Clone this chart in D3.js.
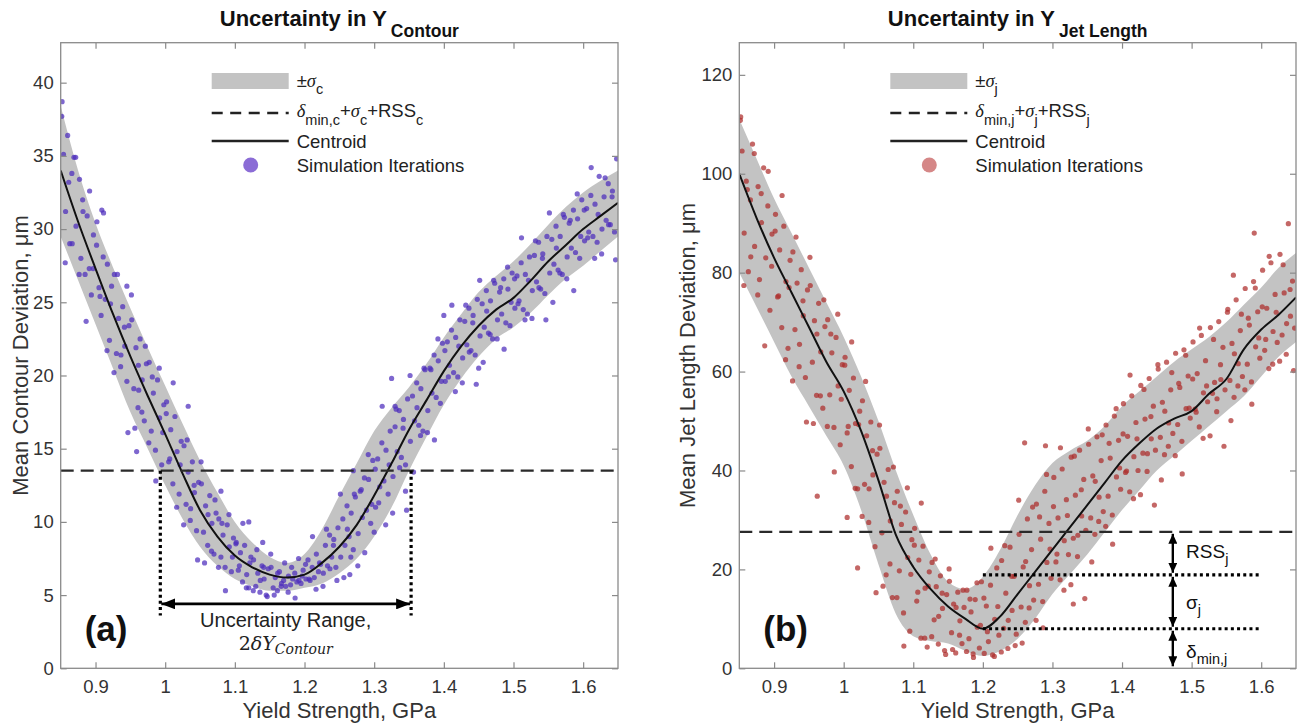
<!DOCTYPE html>
<html>
<head>
<meta charset="utf-8">
<script src="https://cdn.jsdelivr.net/npm/d3@7"></script>
<style>
  body { margin: 0; background: #fff; }
  svg { display: block; font-family: "Liberation Sans", Arial, Helvetica, sans-serif; }
</style>
</head>
<body>
<svg id="viewport" width="1304" height="728"></svg>
<script>
// shared x grid (yield strength, GPa) for the centroid and the +/- sigma band
const gridX = [0.85, 0.875, 0.9, 0.925, 0.95, 0.975, 1.0, 1.025, 1.05, 1.075, 1.1, 1.125, 1.15, 1.175, 1.2, 1.225, 1.25,
  1.275, 1.3, 1.325, 1.35, 1.375, 1.4, 1.425, 1.45, 1.475, 1.5, 1.525, 1.55, 1.575, 1.6, 1.625, 1.65];
const xTicks = [0.9, 1.0, 1.1, 1.2, 1.3, 1.4, 1.5, 1.6];
const xTickLabels = ['0.9', '1', '1.1', '1.2', '1.3', '1.4', '1.5', '1.6'];

// (a) contour deviation
const contourYTicks = [0, 5, 10, 15, 20, 25, 30, 35, 40];
const contourCentroid = [34, 30.5, 27.3, 24.2, 21.3, 18.6, 16.0, 13.3, 10.8, 9.0, 7.7, 6.9, 6.4, 6.2, 6.4, 7.2, 8.3,
  9.8, 11.8, 14.0, 16.3, 18.3, 20.3, 22.0, 23.4, 24.5, 25.3, 26.5, 27.8, 28.9, 30.0, 30.9, 31.8];
const contourUpper = [38.4, 34.0, 30.4, 27.4, 24.6, 21.9, 19.3, 16.7, 14.2, 12.0, 10.0, 8.6, 7.6, 7.2, 7.8, 9.5, 11.8,
  14.0, 16.2, 17.8, 19.2, 20.8, 22.6, 24.2, 25.7, 26.8, 27.8, 29.0, 30.3, 31.5, 32.5, 33.3, 34.0];
const contourLower = [29.5, 26.5, 23.5, 20.5, 17.5, 15.0, 12.5, 10.2, 8.3, 7.0, 6.1, 5.6, 5.3, 5.3, 5.5, 5.8, 6.5,
  7.5, 9.0, 11.0, 13.5, 15.8, 18.0, 19.8, 21.3, 22.5, 23.3, 24.3, 25.5, 26.6, 27.5, 28.5, 29.5];
const contourThreshold = 13.5;
const contourRange = [0.993, 1.353];
const contourIterations = [
  [0.852, 38.7], [0.854, 35.1], [0.857, 31.2], [0.860, 36.4], [0.863, 29.0], [0.866, 33.8], [0.869, 34.9], [0.872, 30.2],
  [0.877, 33.4], [0.879, 28.0], [0.882, 31.2], [0.885, 26.9], [0.888, 30.9], [0.891, 27.3], [0.894, 25.5], [0.897, 29.6],
  [0.902, 30.5], [0.905, 26.0], [0.908, 24.1], [0.911, 28.1], [0.914, 25.2], [0.917, 27.6], [0.920, 22.4], [0.923, 26.1],
  [0.927, 26.9], [0.930, 21.5], [0.933, 23.9], [0.936, 20.6], [0.939, 24.7], [0.942, 22.0], [0.945, 19.6], [0.948, 23.4],
  [0.952, 23.8], [0.955, 19.1], [0.958, 21.9], [0.961, 17.8], [0.964, 22.5], [0.967, 19.7], [0.970, 16.9], [0.973, 20.8],
  [0.977, 20.9], [0.980, 16.2], [0.983, 18.8], [0.986, 14.9], [0.989, 19.7], [0.992, 17.1], [0.995, 13.9], [0.998, 18.0],
  [1.002, 18.2], [1.005, 14.1], [1.008, 16.3], [1.011, 12.6], [1.014, 17.2], [1.017, 14.8], [1.020, 11.9], [1.023, 15.5],
  [1.027, 15.2], [1.030, 11.2], [1.033, 13.4], [1.036, 10.1], [1.039, 14.1], [1.042, 12.0], [1.045, 9.4], [1.048, 12.7],
  [1.052, 12.6], [1.055, 9.3], [1.058, 11.1], [1.061, 8.4], [1.064, 11.8], [1.067, 9.9], [1.070, 7.8], [1.073, 10.6],
  [1.077, 10.2], [1.080, 7.6], [1.083, 9.1], [1.086, 6.9], [1.089, 9.8], [1.092, 8.3], [1.095, 6.6], [1.098, 8.9],
  [1.102, 8.6], [1.105, 6.7], [1.108, 7.9], [1.111, 5.9], [1.114, 8.4], [1.117, 6.4], [1.120, 5.5], [1.123, 7.6],
  [1.127, 7.4], [1.130, 5.6], [1.133, 6.5], [1.136, 5.2], [1.139, 7.0], [1.142, 6.1], [1.145, 5.0], [1.148, 6.8],
  [1.152, 6.9], [1.155, 5.5], [1.158, 6.2], [1.161, 5.3], [1.164, 6.6], [1.167, 5.8], [1.170, 6.0], [1.173, 5.6],
  [1.177, 6.3], [1.180, 5.7], [1.183, 6.1], [1.186, 6.5], [1.189, 5.9], [1.192, 6.0], [1.195, 5.8], [1.198, 6.7],
  [1.202, 6.1], [1.205, 7.4], [1.208, 6.0], [1.211, 6.9], [1.214, 6.2], [1.217, 7.8], [1.220, 6.6], [1.223, 7.1],
  [1.227, 6.5], [1.230, 8.4], [1.233, 7.0], [1.236, 9.1], [1.239, 7.6], [1.242, 8.8], [1.245, 6.9], [1.248, 9.6],
  [1.252, 7.6], [1.255, 10.2], [1.258, 8.4], [1.261, 11.1], [1.264, 9.0], [1.267, 10.6], [1.270, 8.1], [1.273, 11.7],
  [1.277, 9.2], [1.280, 12.1], [1.283, 10.3], [1.286, 13.0], [1.289, 10.8], [1.292, 12.9], [1.295, 9.9], [1.298, 14.2],
  [1.302, 11.0], [1.305, 14.3], [1.308, 12.4], [1.311, 15.4], [1.314, 12.8], [1.317, 14.9], [1.320, 11.9], [1.323, 16.2],
  [1.327, 13.1], [1.330, 16.5], [1.333, 14.8], [1.336, 17.6], [1.339, 14.4], [1.342, 17.0], [1.345, 13.9], [1.348, 18.4],
  [1.352, 15.5], [1.355, 18.6], [1.358, 16.9], [1.361, 19.5], [1.364, 16.6], [1.367, 19.1], [1.370, 16.2], [1.373, 20.4],
  [1.377, 17.6], [1.380, 20.5], [1.383, 18.8], [1.386, 21.4], [1.389, 18.5], [1.392, 21.0], [1.395, 18.1], [1.398, 22.2],
  [1.402, 19.6], [1.405, 22.3], [1.408, 20.7], [1.411, 23.1], [1.414, 20.2], [1.417, 22.6], [1.420, 19.9], [1.423, 23.8],
  [1.427, 21.2], [1.430, 23.7], [1.433, 22.1], [1.436, 24.6], [1.439, 21.7], [1.442, 24.1], [1.445, 21.4], [1.448, 25.2],
  [1.452, 22.7], [1.455, 24.9], [1.458, 23.3], [1.461, 25.8], [1.464, 22.9], [1.467, 25.1], [1.470, 22.5], [1.473, 26.3],
  [1.477, 23.8], [1.480, 25.7], [1.483, 24.2], [1.486, 26.6], [1.489, 23.6], [1.492, 25.9], [1.495, 23.4], [1.498, 27.0],
  [1.502, 24.6], [1.505, 26.8], [1.508, 25.1], [1.511, 27.7], [1.514, 24.5], [1.517, 26.9], [1.520, 24.2], [1.523, 28.1],
  [1.527, 25.8], [1.530, 28.2], [1.533, 26.4], [1.536, 29.1], [1.539, 25.9], [1.542, 28.3], [1.545, 25.6], [1.548, 29.5],
  [1.552, 27.0], [1.555, 29.3], [1.558, 27.6], [1.561, 30.2], [1.564, 27.2], [1.567, 29.5], [1.570, 26.9], [1.573, 30.8],
  [1.577, 28.1], [1.580, 30.4], [1.583, 28.7], [1.586, 31.3], [1.589, 28.4], [1.592, 30.7], [1.595, 28.0], [1.598, 32.0],
  [1.602, 29.2], [1.605, 31.4], [1.608, 29.8], [1.611, 32.3], [1.614, 29.5], [1.617, 31.7], [1.620, 29.1], [1.623, 33.6],
  [1.627, 30.0], [1.630, 32.2], [1.633, 30.6], [1.636, 33.1], [1.639, 30.3], [1.642, 32.6], [1.645, 29.8], [1.648, 34.8],
  [0.909, 31.3], [0.945, 26.1], [0.959, 14.8], [0.962, 19.0], [1.033, 17.9], [1.080, 12.1], [1.120, 10.0], [1.140, 8.6],
  [1.270, 13.5], [1.300, 9.3], [1.325, 19.8], [1.345, 12.1], [1.265, 6.4], [1.330, 17.9], [1.400, 24.1], [1.450, 20.5],
  [0.8515, 37.7], [0.8565, 27.7], [0.8615, 33.2], [0.8665, 29.0], [0.8715, 34.9],
  [0.8765, 26.9], [0.8815, 32.0], [0.8865, 23.7], [0.8915, 32.6], [0.8965, 27.3],
  [0.9015, 28.9], [0.9065, 25.4], [0.9115, 31.1], [0.9165, 21.7], [0.9215, 24.9],
  [0.9265, 20.2], [0.9315, 26.9], [0.9365, 21.4], [0.9415, 23.3], [0.9465, 16.1],
  [0.9515, 25.5], [0.9565, 16.4], [0.9615, 20.7], [0.9665, 17.5], [0.9715, 22.0],
  [0.9765, 15.4], [0.9815, 19.9], [0.9865, 12.8], [0.9915, 20.5], [0.9965, 16.1],
  [1.0015, 17.4], [1.0065, 14.3], [1.0115, 19.5], [1.0165, 11.0], [1.0215, 13.9],
  [1.0265, 9.8], [1.0315, 15.6], [1.0365, 10.9], [1.0415, 12.5], [1.0465, 7.4],
  [1.0515, 14.1], [1.0565, 7.2], [1.0615, 10.5], [1.0665, 8.0], [1.0715, 11.5],
  [1.0765, 6.9], [1.0815, 9.9], [1.0865, 5.3], [1.0915, 10.5], [1.0965, 7.6],
  [1.1015, 8.5], [1.1065, 7.0], [1.1115, 9.9], [1.1165, 5.5], [1.1215, 7.2],
  [1.1265, 5.3], [1.1315, 8.1], [1.1365, 6.0], [1.1415, 6.9], [1.1465, 4.9],
  [1.1515, 7.8], [1.1565, 5.0], [1.1615, 6.5], [1.1665, 5.6], [1.1715, 7.2],
  [1.1765, 5.2], [1.1815, 6.9], [1.1865, 4.8], [1.1915, 7.5], [1.1965, 6.3],
  [1.2015, 7.1], [1.2065, 6.1], [1.2115, 9.0], [1.2165, 5.4], [1.2215, 7.2],
  [1.2265, 5.6], [1.2315, 9.5], [1.2365, 6.8], [1.2415, 8.4], [1.2465, 6.0],
  [1.2515, 11.9], [1.2565, 6.2], [1.2615, 9.5], [1.2665, 7.6], [1.2715, 11.9],
  [1.2765, 7.0], [1.2815, 12.2], [1.2865, 7.9], [1.2915, 14.6], [1.2965, 11.2],
  [1.3015, 13.6], [1.3065, 11.3], [1.3115, 17.9], [1.3165, 9.8], [1.3215, 13.9],
  [1.3265, 10.6], [1.3315, 17.7], [1.3365, 13.7], [1.3415, 16.4], [1.3465, 10.8],
  [1.3515, 20.0], [1.3565, 13.4], [1.3615, 17.8], [1.3665, 15.9], [1.3715, 20.5],
  [1.3765, 16.1], [1.3815, 20.4], [1.3865, 15.6], [1.3915, 22.5], [1.3965, 19.6],
  [1.4015, 21.7], [1.4065, 19.9], [1.4115, 24.8], [1.4165, 18.9], [1.4215, 22.0],
  [1.4265, 19.5], [1.4315, 24.8], [1.4365, 21.6], [1.4415, 23.6], [1.4465, 19.4],
  [1.4515, 26.5], [1.4565, 20.9], [1.4615, 24.4], [1.4665, 22.8], [1.4715, 26.5],
  [1.4765, 22.5], [1.4815, 26.0], [1.4865, 21.8], [1.4915, 27.4], [1.4965, 25.0],
  [1.5015, 26.6], [1.5065, 24.9], [1.5115, 29.4], [1.5165, 23.8], [1.5215, 26.5],
  [1.5265, 23.9], [1.5315, 29.2], [1.5365, 26.0], [1.5415, 28.0], [1.5465, 23.8],
  [1.5515, 31.1], [1.5565, 25.0], [1.5615, 28.7], [1.5665, 27.0], [1.5715, 31.0],
  [1.5765, 26.6], [1.5815, 30.6], [1.5865, 25.8], [1.5915, 32.4], [1.5965, 29.5],
  [1.6015, 31.3], [1.6065, 29.4], [1.6115, 34.2], [1.6165, 28.0], [1.6215, 31.0],
  [1.6265, 28.3], [1.6315, 33.5], [1.6365, 30.3], [1.6415, 32.2], [1.6465, 27.9]
];

// (b) jet length deviation
const jetYTicks = [0, 20, 40, 60, 80, 100, 120];
const jetCentroid = [100, 91, 83, 76, 69, 62, 56, 48, 38, 27, 20.5, 16, 12.5, 10, 8, 10.5, 15,
  19.5, 24, 28.5, 33, 37.5, 42, 45.5, 48.5, 50.5, 52, 55.5, 58.5, 64.5, 68.5, 71.5, 75];
const jetUpper = [111, 103, 95, 88, 81, 74, 67, 59, 50, 40, 31, 23, 17.5, 16, 18.5, 24, 31,
  37, 41.5, 44, 46, 49, 53, 56, 59, 62, 64.5, 67, 70, 73.5, 77, 81, 84];
const jetLower = [80, 73, 66, 59, 53, 47, 41, 32, 21, 11, 6.5, 5.5, 5, 3.5, 2.5, 3.5, 6,
  10, 15, 19, 23, 27.5, 32, 36, 40, 43, 46, 49, 52, 55, 59, 63, 66];
const jetThreshold = 27.6;
const jetLevels = [18.9, 8.0];
const jetIterations = [
  [0.852, 111.5], [0.854, 104.6], [0.857, 88.0], [0.860, 98.5], [0.863, 80.2], [0.866, 94.7], [0.869, 106.0], [0.872, 85.3],
  [0.877, 97.4], [0.879, 78.6], [0.882, 90.1], [0.885, 101.2], [0.888, 83.0], [0.891, 93.5], [0.894, 72.4], [0.897, 87.8],
  [0.902, 91.8], [0.905, 75.1], [0.908, 84.6], [0.911, 68.9], [0.914, 89.4], [0.917, 78.2], [0.920, 64.7], [0.923, 82.5],
  [0.927, 84.2], [0.930, 68.5], [0.933, 77.9], [0.936, 61.0], [0.939, 80.6], [0.942, 71.3], [0.945, 58.8], [0.948, 76.5],
  [0.952, 77.4], [0.955, 61.9], [0.958, 70.3], [0.961, 55.2], [0.964, 73.8], [0.967, 64.0], [0.970, 52.6], [0.973, 69.1],
  [0.977, 70.5], [0.980, 55.3], [0.983, 63.8], [0.986, 48.7], [0.989, 66.9], [0.992, 57.1], [0.995, 45.2], [0.998, 61.4],
  [1.002, 62.9], [1.005, 47.6], [1.008, 56.2], [1.011, 40.8], [1.014, 58.7], [1.017, 49.5], [1.020, 36.3], [1.023, 52.0],
  [1.027, 54.1], [1.030, 37.2], [1.033, 47.0], [1.036, 29.5], [1.039, 49.8], [1.042, 39.1], [1.045, 24.6], [1.048, 43.3],
  [1.052, 44.5], [1.055, 27.4], [1.058, 37.6], [1.061, 18.9], [1.064, 40.2], [1.067, 29.8], [1.070, 14.3], [1.073, 33.5],
  [1.077, 35.8], [1.080, 19.7], [1.083, 29.1], [1.086, 11.2], [1.089, 31.6], [1.092, 22.4], [1.095, 7.5], [1.098, 26.0],
  [1.102, 28.3], [1.105, 13.6], [1.108, 21.9], [1.111, 6.1], [1.114, 24.7], [1.117, 16.2], [1.120, 4.3], [1.123, 19.5],
  [1.127, 21.4], [1.130, 9.8], [1.133, 16.5], [1.136, 4.9], [1.139, 18.7], [1.142, 12.1], [1.145, 3.6], [1.148, 14.9],
  [1.152, 17.6], [1.155, 7.2], [1.158, 13.0], [1.161, 3.1], [1.164, 15.4], [1.167, 9.6], [1.170, 5.0], [1.173, 12.3],
  [1.177, 15.8], [1.180, 6.0], [1.183, 11.4], [1.186, 2.9], [1.189, 13.9], [1.192, 8.3], [1.195, 4.1], [1.198, 17.5],
  [1.202, 3.0], [1.205, 12.6], [1.208, 5.4], [1.211, 16.8], [1.214, 2.7], [1.217, 9.9], [1.220, 20.3], [1.223, 6.7],
  [1.227, 21.8], [1.230, 8.1], [1.233, 15.2], [1.236, 4.0], [1.239, 24.5], [1.242, 11.7], [1.245, 18.6], [1.248, 6.9],
  [1.252, 27.1], [1.255, 12.4], [1.258, 20.5], [1.261, 9.3], [1.264, 30.2], [1.267, 16.7], [1.270, 24.0], [1.273, 13.8],
  [1.277, 33.2], [1.280, 17.0], [1.283, 26.1], [1.286, 13.5], [1.289, 35.8], [1.292, 21.4], [1.295, 29.3], [1.298, 18.2],
  [1.302, 38.6], [1.305, 21.5], [1.308, 30.4], [1.311, 17.9], [1.314, 40.3], [1.317, 25.8], [1.320, 34.1], [1.323, 23.0],
  [1.327, 42.7], [1.330, 26.3], [1.333, 35.0], [1.336, 22.6], [1.339, 44.1], [1.342, 30.8], [1.345, 38.2], [1.348, 27.9],
  [1.352, 45.3], [1.355, 30.4], [1.358, 38.9], [1.361, 27.1], [1.364, 46.8], [1.367, 34.6], [1.370, 42.0], [1.373, 31.7],
  [1.377, 49.2], [1.380, 34.8], [1.383, 42.5], [1.386, 31.0], [1.389, 51.0], [1.392, 38.7], [1.395, 46.1], [1.398, 36.2],
  [1.402, 53.5], [1.405, 39.6], [1.408, 46.9], [1.411, 35.7], [1.414, 55.1], [1.417, 42.8], [1.420, 49.7], [1.423, 40.0],
  [1.427, 57.2], [1.430, 43.5], [1.433, 50.4], [1.436, 39.8], [1.439, 58.6], [1.442, 46.4], [1.445, 53.0], [1.448, 44.1],
  [1.452, 60.5], [1.455, 46.7], [1.458, 53.8], [1.461, 43.2], [1.464, 61.9], [1.467, 49.6], [1.470, 56.3], [1.473, 47.5],
  [1.477, 63.7], [1.480, 49.3], [1.483, 56.8], [1.486, 45.9], [1.489, 64.4], [1.492, 52.5], [1.495, 59.1], [1.498, 50.6],
  [1.502, 66.0], [1.505, 52.4], [1.508, 59.6], [1.511, 48.8], [1.514, 67.3], [1.517, 55.7], [1.520, 62.2], [1.523, 53.9],
  [1.527, 68.9], [1.530, 55.6], [1.533, 57.8], [1.536, 51.9], [1.539, 70.1], [1.542, 58.4], [1.545, 64.9], [1.548, 56.3],
  [1.552, 72.6], [1.555, 58.2], [1.558, 65.7], [1.561, 54.8], [1.564, 74.5], [1.567, 61.6], [1.570, 68.3], [1.573, 59.0],
  [1.577, 76.8], [1.580, 61.5], [1.583, 69.4], [1.586, 57.9], [1.589, 78.2], [1.592, 65.0], [1.595, 72.1], [1.598, 62.7],
  [1.602, 80.5], [1.605, 64.3], [1.608, 72.8], [1.611, 60.6], [1.614, 82.0], [1.617, 68.1], [1.620, 75.6], [1.623, 65.9],
  [1.627, 83.7], [1.630, 67.4], [1.633, 75.9], [1.636, 63.5], [1.639, 89.9], [1.642, 71.2], [1.645, 78.3], [1.648, 68.8],
  [1.590, 88.0], [1.560, 79.5], [0.962, 34.8], [1.020, 20.3], [1.005, 30.5], [1.260, 45.6], [1.290, 45.0], [1.330, 13.0],
  [0.8515, 110.8], [0.8565, 77.4], [0.8615, 96.8], [0.8665, 83.2], [0.8715, 104.1],
  [0.8765, 75.5], [0.8815, 96.0], [0.8865, 65.2], [0.8915, 100.5], [0.8965, 81.3],
  [0.9015, 88.4], [0.9065, 75.3], [0.9115, 95.6], [0.9165, 62.4], [0.9215, 77.0],
  [0.9265, 58.1], [0.9315, 87.2], [0.9365, 65.5], [0.9415, 74.3], [0.9465, 49.8],
  [0.9515, 83.1], [0.9565, 49.5], [0.9615, 67.6], [0.9665, 55.1], [0.9715, 74.5],
  [0.9765, 48.9], [0.9815, 67.6], [0.9865, 39.7], [0.9915, 71.6], [0.9965, 54.4],
  [1.0015, 61.3], [1.0065, 48.9], [1.0115, 66.0], [1.0165, 36.4], [1.0215, 49.3],
  [1.0265, 30.7], [1.0315, 58.0], [1.0365, 36.3], [1.0415, 44.0], [1.0465, 15.3],
  [1.0515, 49.2], [1.0565, 16.6], [1.0615, 34.8], [1.0665, 21.1], [1.0715, 40.7],
  [1.0765, 14.3], [1.0815, 32.8], [1.0865, 4.5], [1.0915, 36.5], [1.0965, 19.0],
  [1.1015, 24.9], [1.1065, 15.4], [1.1115, 33.4], [1.1165, 6.1], [1.1215, 16.6],
  [1.1265, 6.4], [1.1315, 22.1], [1.1365, 10.5], [1.1415, 15.2], [1.1465, 2.8],
  [1.1515, 20.1], [1.1565, 3.8], [1.1615, 12.3], [1.1665, 6.7], [1.1715, 15.8],
  [1.1765, 3.4], [1.1815, 14.0], [1.1865, 2.2], [1.1915, 17.3], [1.1965, 8.7],
  [1.2015, 14.2], [1.2065, 7.4], [1.2115, 24.3], [1.2165, 2.4], [1.2215, 12.5],
  [1.2265, 3.3], [1.2315, 24.8], [1.2365, 9.7], [1.2415, 18.6], [1.2465, 4.6],
  [1.2515, 34.0], [1.2565, 5.1], [1.2615, 21.6], [1.2665, 12.2], [1.2715, 32.6],
  [1.2765, 9.7], [1.2815, 30.6], [1.2865, 8.2], [1.2915, 39.2], [1.2965, 24.1],
  [1.3015, 32.7], [1.3065, 23.1], [1.3115, 44.6], [1.3165, 15.8], [1.3215, 30.9],
  [1.3265, 16.9], [1.3315, 42.9], [1.3365, 26.9], [1.3415, 36.1], [1.3465, 14.1],
  [1.3515, 48.4], [1.3565, 21.5], [1.3615, 37.8], [1.3665, 29.7], [1.3715, 47.2],
  [1.3765, 28.7], [1.3815, 45.5], [1.3865, 25.1], [1.3915, 52.5], [1.3965, 40.5],
  [1.4015, 47.4], [1.4065, 39.9], [1.4115, 59.3], [1.4165, 34.3], [1.4215, 46.4],
  [1.4265, 35.1], [1.4315, 56.4], [1.4365, 43.4], [1.4415, 50.9], [1.4465, 33.0],
  [1.4515, 61.4], [1.4565, 38.1], [1.4615, 52.0], [1.4665, 44.9], [1.4715, 59.8],
  [1.4765, 43.0], [1.4815, 57.6], [1.4865, 39.3], [1.4915, 63.3], [1.4965, 52.6],
  [1.5015, 58.5], [1.5065, 51.8], [1.5115, 68.8], [1.5165, 46.5], [1.5215, 57.1],
  [1.5265, 47.0], [1.5315, 66.5], [1.5365, 54.5], [1.5415, 61.4], [1.5465, 44.9],
  [1.5515, 72.0], [1.5565, 50.1], [1.5615, 63.6], [1.5665, 57.1], [1.5715, 71.6],
  [1.5765, 56.3], [1.5815, 70.8], [1.5865, 53.4], [1.5915, 76.9], [1.5965, 66.8],
  [1.6015, 73.1], [1.6065, 66.5], [1.6115, 83.3], [1.6165, 61.5], [1.6215, 72.0],
  [1.6265, 62.1], [1.6315, 81.6], [1.6365, 69.7], [1.6415, 76.6], [1.6465, 60.2]
];

const svg = d3.select('#viewport');
const defs = svg.append('defs');

// filled arrow heads, a large one for (a) and a small one for (b)
[['headBig', 14, 11], ['headSmall', 10, 9]].forEach(([id, len, wid]) => {
  defs.append('marker')
    .attr('id', id)
    .attr('markerUnits', 'userSpaceOnUse')
    .attr('markerWidth', len)
    .attr('markerHeight', wid)
    .attr('refX', len)
    .attr('refY', wid / 2)
    .attr('orient', 'auto-start-reverse')
    .append('path')
    .attr('d', `M0,0L${len},${wid / 2}L0,${wid}Z`)
    .attr('fill', '#000');
});

// text with sub-scripts built from parts
function richText(parent, x, y, parts, opts = {}) {
  const t = parent.append('text')
    .attr('x', x)
    .attr('y', y)
    .attr('font-size', opts.size || 18.5)
    .attr('fill', opts.fill || '#222')
    .attr('text-anchor', opts.anchor || 'start');
  if (opts.weight) t.attr('font-weight', opts.weight);
  let shift = 0;
  parts.forEach((p) => {
    const s = t.append('tspan').text(p.t);
    const want = p.sub ? (opts.subDy || 7) : 0;
    if (want !== shift) {
      s.attr('dy', want - shift);
      shift = want;
    }
    if (p.sub) s.attr('font-size', opts.subSize || 13);
    if (p.it) s.attr('font-style', 'italic').attr('font-family', '"Liberation Serif", "DejaVu Serif", serif');
    if (p.dx) s.attr('dx', p.dx);
  });
  return t;
}

const panels = [
  {
    id: 'contour', left: 60.7, right: 618, top: 42.7, bottom: 668.3, yMax: 42.73,
    yTicks: contourYTicks, centroid: contourCentroid, upper: contourUpper, lower: contourLower,
    points: contourIterations, threshold: contourThreshold,
    dot: '#4c2cbd', legendDot: '#8b6cd6', letter: '(a)', sub: 'c',
    title: 'Contour', ylabel: 'Mean Contour Deviation, \u03bcm', ylabelX: 28,
  },
  {
    id: 'jet', left: 739.3, right: 1296, top: 42.7, bottom: 668.3, yMax: 126.5,
    yTicks: jetYTicks, centroid: jetCentroid, upper: jetUpper, lower: jetLower,
    points: jetIterations, threshold: jetThreshold,
    dot: '#ad2c2b', legendDot: '#d58787', letter: '(b)', sub: 'j',
    title: 'Jet Length', ylabel: 'Mean Jet Length Deviation, \u03bcm', ylabelX: 695,
  },
];

panels.forEach((p) => {
  const x = d3.scaleLinear().domain([0.85, 1.65]).range([p.left, p.right]);
  const y = d3.scaleLinear().domain([0, p.yMax]).range([p.bottom, p.top]);
  p.x = x;
  p.y = y;
  const g = svg.append('g').attr('class', p.id);

  defs.append('clipPath').attr('id', `clip-${p.id}`)
    .append('rect')
    .attr('x', p.left).attr('y', p.top)
    .attr('width', p.right - p.left).attr('height', p.bottom - p.top);
  const plot = g.append('g').attr('clip-path', `url(#clip-${p.id})`);

  const rows = gridX.map((gx, i) => ({ x: gx, lo: p.lower[i], hi: p.upper[i], c: p.centroid[i] }));

  // +/- sigma band
  plot.append('path')
    .datum(rows)
    .attr('d', d3.area().x((d) => x(d.x)).y0((d) => y(d.lo)).y1((d) => y(d.hi)).curve(d3.curveMonotoneX))
    .attr('fill', '#c3c3c3');

  // simulation iterations
  plot.append('g').selectAll('circle')
    .data(p.points)
    .join('circle')
    .attr('cx', (d) => x(d[0]))
    .attr('cy', (d) => y(d[1]))
    .attr('r', 2.6)
    .attr('fill', p.dot)
    .attr('fill-opacity', 0.72);

  // centroid
  plot.append('path')
    .datum(rows)
    .attr('d', d3.line().x((d) => x(d.x)).y((d) => y(d.c)).curve(d3.curveMonotoneX))
    .attr('fill', 'none')
    .attr('stroke', '#111')
    .attr('stroke-width', 2);

  // delta_min + sigma + RSS threshold
  plot.append('line')
    .attr('x1', x(0.85)).attr('x2', x(1.65))
    .attr('y1', y(p.threshold)).attr('y2', y(p.threshold))
    .attr('stroke', '#2a2a2a')
    .attr('stroke-width', 2.3)
    .attr('stroke-dasharray', '13,7');

  // axes, ticks pointing inwards on all four sides
  const styleAxis = (sel) => {
    sel.select('.domain').remove();
    sel.selectAll('.tick line').attr('stroke', '#8a8a8a').attr('stroke-width', 1.2);
    sel.selectAll('.tick text').attr('fill', '#333').attr('font-size', 18.5)
      .attr('font-family', '"Liberation Sans", Arial, sans-serif');
  };
  g.append('g').attr('transform', `translate(0,${p.bottom})`)
    .call(d3.axisBottom(x).tickValues(xTicks).tickFormat((d, i) => xTickLabels[i]).tickSize(-6).tickPadding(12))
    .call(styleAxis);
  g.append('g').attr('transform', `translate(0,${p.top})`)
    .call(d3.axisTop(x).tickValues(xTicks).tickFormat('').tickSize(-6))
    .call(styleAxis);
  g.append('g').attr('transform', `translate(${p.left},0)`)
    .call(d3.axisLeft(y).tickValues(p.yTicks).tickFormat((d) => d).tickSize(-6).tickPadding(7))
    .call(styleAxis);
  g.append('g').attr('transform', `translate(${p.right},0)`)
    .call(d3.axisRight(y).tickValues(p.yTicks).tickFormat('').tickSize(-6))
    .call(styleAxis);

  g.append('rect')
    .attr('x', p.left).attr('y', p.top)
    .attr('width', p.right - p.left).attr('height', p.bottom - p.top)
    .attr('fill', 'none')
    .attr('stroke', '#8a8a8a')
    .attr('stroke-width', 1.3);

  // labels
  const cx = (p.left + p.right) / 2;
  g.append('text')
    .attr('x', cx).attr('y', 718)
    .attr('text-anchor', 'middle')
    .attr('font-size', 22)
    .attr('fill', '#333')
    .text('Yield Strength, GPa');
  g.append('text')
    .attr('transform', `translate(${p.ylabelX},${(p.top + p.bottom) / 2}) rotate(-90)`)
    .attr('text-anchor', 'middle')
    .attr('font-size', 22)
    .attr('fill', '#333')
    .text(p.ylabel);
  richText(g, cx, 26, [{ t: 'Uncertainty in Y' }, { t: p.title, sub: true, dx: 4 }],
    { size: 22, weight: 'bold', anchor: 'middle', fill: '#111', subDy: 11, subSize: 17.5 });

  g.append('text')
    .attr('x', p.left + 24).attr('y', 641)
    .attr('font-size', 35)
    .attr('font-weight', 'bold')
    .attr('fill', '#111')
    .text(p.letter);

  // legend
  const lg = g.append('g').attr('class', 'legend');
  const lx = p.left + 151;
  lg.append('rect').attr('x', lx).attr('y', 73).attr('width', 77).attr('height', 16).attr('fill', '#c3c3c3');
  lg.append('line').attr('x1', lx).attr('x2', lx + 77).attr('y1', 113).attr('y2', 113)
    .attr('stroke', '#222').attr('stroke-width', 2.5).attr('stroke-dasharray', '11,7.5');
  lg.append('line').attr('x1', lx).attr('x2', lx + 77).attr('y1', 141).attr('y2', 141)
    .attr('stroke', '#222').attr('stroke-width', 2.5);
  lg.append('circle').attr('cx', lx + 39).attr('cy', 165).attr('r', 7.5).attr('fill', p.legendDot);
  const tx = p.left + 236;
  richText(lg, tx, 87, [{ t: '\u00b1' }, { t: '\u03c3', it: true }, { t: p.sub, sub: true }], { subDy: 6.5, subSize: 14.5 });
  richText(lg, tx, 117, [
    { t: '\u03b4', it: true }, { t: `min,${p.sub}`, sub: true }, { t: '+' }, { t: '\u03c3', it: true },
    { t: p.sub, sub: true }, { t: '+RSS' }, { t: p.sub, sub: true },
  ], { subDy: 8, subSize: 14.5 });
  lg.append('text').attr('x', tx).attr('y', 147.5).attr('font-size', 18.5).attr('fill', '#222').text('Centroid');
  lg.append('text').attr('x', tx).attr('y', 171.5).attr('font-size', 18.5).attr('fill', '#222').text('Simulation Iterations');
});

// (a) uncertainty range annotation
{
  const { x, y } = panels[0];
  const ann = svg.append('g').attr('class', 'annotation-a');
  ann.selectAll('line.drop')
    .data(contourRange)
    .join('line')
    .attr('x1', (d) => x(d)).attr('x2', (d) => x(d))
    .attr('y1', y(contourThreshold)).attr('y2', y(3.6))
    .attr('stroke', '#000')
    .attr('stroke-width', 3.2)
    .attr('stroke-dasharray', '3,3.2');
  ann.append('line')
    .attr('x1', x(contourRange[0]) + 1).attr('x2', x(contourRange[1]) - 1)
    .attr('y1', y(4.4)).attr('y2', y(4.4))
    .attr('stroke', '#000')
    .attr('stroke-width', 2.6)
    .attr('marker-start', 'url(#headBig)')
    .attr('marker-end', 'url(#headBig)');
  const mid = (x(contourRange[0]) + x(contourRange[1])) / 2;
  ann.append('text')
    .attr('x', mid).attr('y', 627)
    .attr('text-anchor', 'middle')
    .attr('font-size', 20)
    .attr('fill', '#222')
    .text('Uncertainty Range,');
  const t = ann.append('text')
    .attr('x', mid).attr('y', 650)
    .attr('text-anchor', 'middle')
    .attr('font-size', 19)
    .attr('fill', '#222')
    .attr('font-family', '"DejaVu Serif", "Liberation Serif", serif');
  t.append('tspan').text('2');
  t.append('tspan').attr('font-style', 'italic').text('\u03b4Y');
  t.append('tspan').attr('font-style', 'italic').attr('font-size', 14).attr('dy', 4).text('Contour');
}

// (b) delta_min, sigma and RSS breakdown
{
  const { x, y } = panels[1];
  const ann = svg.append('g').attr('class', 'annotation-b');
  ann.selectAll('line.level')
    .data(jetLevels)
    .join('line')
    .attr('x1', x(1.2)).attr('x2', x(1.6))
    .attr('y1', (d) => y(d)).attr('y2', (d) => y(d))
    .attr('stroke', '#000')
    .attr('stroke-width', 3.2)
    .attr('stroke-dasharray', '3,3.2');
  const spans = [[jetThreshold, jetLevels[0]], [jetLevels[0], jetLevels[1]], [jetLevels[1], 0]];
  ann.selectAll('line.span')
    .data(spans)
    .join('line')
    .attr('x1', x(1.473)).attr('x2', x(1.473))
    .attr('y1', (d) => y(d[0]) + 2).attr('y2', (d) => y(d[1]) - 2)
    .attr('stroke', '#000')
    .attr('stroke-width', 2.4)
    .attr('marker-start', 'url(#headSmall)')
    .attr('marker-end', 'url(#headSmall)');
  const lx = x(1.492);
  richText(ann, lx, y(22.3), [{ t: 'RSS' }, { t: 'j', sub: true }], { subDy: 6, subSize: 14.5, fill: '#111', size: 19 });
  richText(ann, lx, y(12.0), [{ t: '\u03c3' }, { t: 'j', sub: true }], { subDy: 6, subSize: 14.5, fill: '#111', size: 19 });
  richText(ann, lx, y(2.1), [{ t: '\u03b4' }, { t: 'min,j', sub: true }], { subDy: 6, subSize: 14.5, fill: '#111', size: 19 });
}
</script>
</body>
</html>
